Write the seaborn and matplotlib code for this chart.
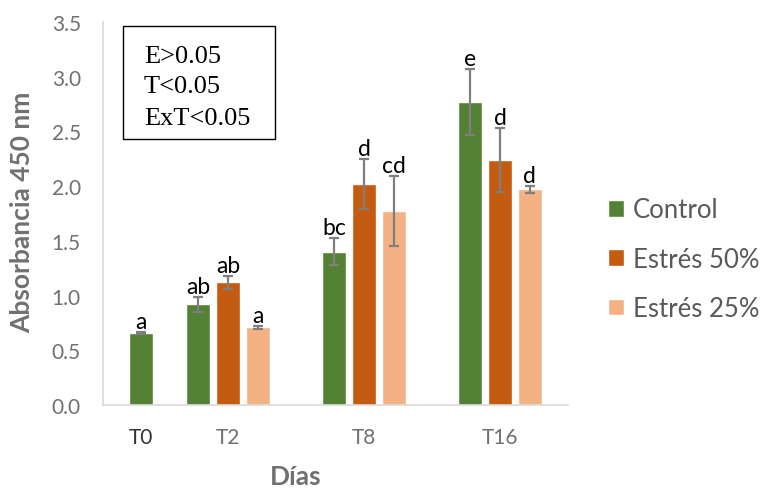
import pandas as pd
import numpy as np
from matplotlib import pyplot as plt
from matplotlib.patches import Rectangle
import seaborn as sns

# Values
days = ["T2", "T8", "T16"]
treatments = ["Control", "Estrés 50%", "Estrés 25%"]
control = [0.92, 1.40, 2.77]
stress50 = [1.12, 2.02, 2.24]
stress25 = [0.71, 1.77, 1.97]
control_err = [0.07, 0.125, 0.30]
stress50_err = [0.06, 0.23, 0.29]
stress25_err = [0.015, 0.32, 0.03]
control_letters = ["ab", "bc", "e"]
stress50_letters = ["ab", "d", "d"]
stress25_letters = ["a", "cd", "d"]

# T0 only has the control group
t0_value = 0.66
t0_err = 0.01
t0_letter = "a"

stats_lines = ["E>0.05", "T<0.05", "ExT<0.05"]

colors = ["#548235", "#c55a11", "#f4b183"]
grey = "#7f7f7f"
text_grey = "#707070"

# layout: x position of each day on the axis
day_pos = {"T0": -0.64, "T2": 0.0, "T8": 1.0, "T16": 2.0}

df = pd.DataFrame({
    "day": days * 3,
    "treatment": [t for t in treatments for _ in days],
    "value": control + stress50 + stress25,
})
df["pos"] = df["day"].map(day_pos)
df0 = pd.DataFrame({"day": ["T0"], "treatment": ["Control"], "value": [t0_value]})
df0["pos"] = df0["day"].map(day_pos)

sns.set_theme(style="white")
plt.rcParams["font.family"] = ["Lato", "DejaVu Sans"]

fig = plt.figure(figsize=(7.66, 4.89), dpi=100)
ax = fig.add_axes([0.1345, 0.1697, 0.607, 0.7833])

sns.barplot(data=df, x="pos", y="value", hue="treatment", hue_order=treatments,
            palette=colors, native_scale=True, width=0.66, gap=0.2,
            errorbar=None, saturation=1, ax=ax)
sns.barplot(data=df0, x="pos", y="value", hue="treatment", hue_order=["Control"],
            palette=colors[:1], native_scale=True, width=0.22, gap=0.2,
            errorbar=None, saturation=1, legend=False, ax=ax)

# error bars + significance letters
all_err = [control_err, stress50_err, stress25_err, [t0_err]]
all_letters = [control_letters, stress50_letters, stress25_letters, [t0_letter]]
for cont, errs, letters in zip(ax.containers, all_err, all_letters):
    for bar, e, lab in zip(cont, errs, letters):
        x = bar.get_x() + bar.get_width() / 2
        h = bar.get_height()
        ax.errorbar(x, h, yerr=e, color=grey, capsize=3.5, elinewidth=1.6,
                    capthick=1.6, zorder=3)
        ax.text(x, h + e + 0.035, lab, ha="center", va="baseline",
                fontsize=16.5, color="black")

ax.set_ylim(0, 3.5)
ax.set_yticks(np.arange(0, 3.51, 0.5))
ax.set_yticklabels([f"{v:.1f}" for v in np.arange(0, 3.51, 0.5)])
ax.set_xlim(-0.919, 2.5)
tick_days = ["T0"] + days
ax.set_xticks([day_pos[d] for d in tick_days])
ax.set_xticklabels(tick_days)
ax.tick_params(axis="both", length=0, labelsize=15, colors=text_grey)
ax.tick_params(axis="x", pad=16)
ax.tick_params(axis="y", pad=16)
ax.get_xticklabels()[0].set_color("#333333")

sns.despine(ax=ax)
for s in ["left", "bottom"]:
    ax.spines[s].set_color("#d9d9d9")
    ax.spines[s].set_linewidth(1.2)

ax.set_ylabel("Absorbancia 450 nm", fontsize=19, fontweight="bold", color=text_grey)
ax.set_xlabel("Días", fontsize=19, fontweight="bold", color=text_grey)
ax.yaxis.set_label_coords(-0.148, 0.505)
ax.xaxis.set_label_coords(0.415, -0.155)

# stats box
ax.add_patch(Rectangle((0.043, 0.6945), 0.327, 0.295, transform=ax.transAxes,
                       fill=True, facecolor="white", edgecolor="black",
                       linewidth=1, zorder=4))
for line, yb in zip(stats_lines, [0.8956, 0.817, 0.7337]):
    ax.text(0.088, yb, line, transform=ax.transAxes, va="baseline", ha="left",
            fontsize=19, family="Liberation Serif", color="black", zorder=5)

sns.move_legend(ax, "center left", bbox_to_anchor=(0.794, 0.468),
                bbox_transform=fig.transFigure, frameon=False, title=None,
                fontsize=18.5, handlelength=0.62, handleheight=0.62,
                handletextpad=0.35, labelspacing=0.95, borderpad=0,
                borderaxespad=0)
for t in ax.get_legend().get_texts():
    t.set_color("#595959")

fig.savefig("out.png", dpi=100)
